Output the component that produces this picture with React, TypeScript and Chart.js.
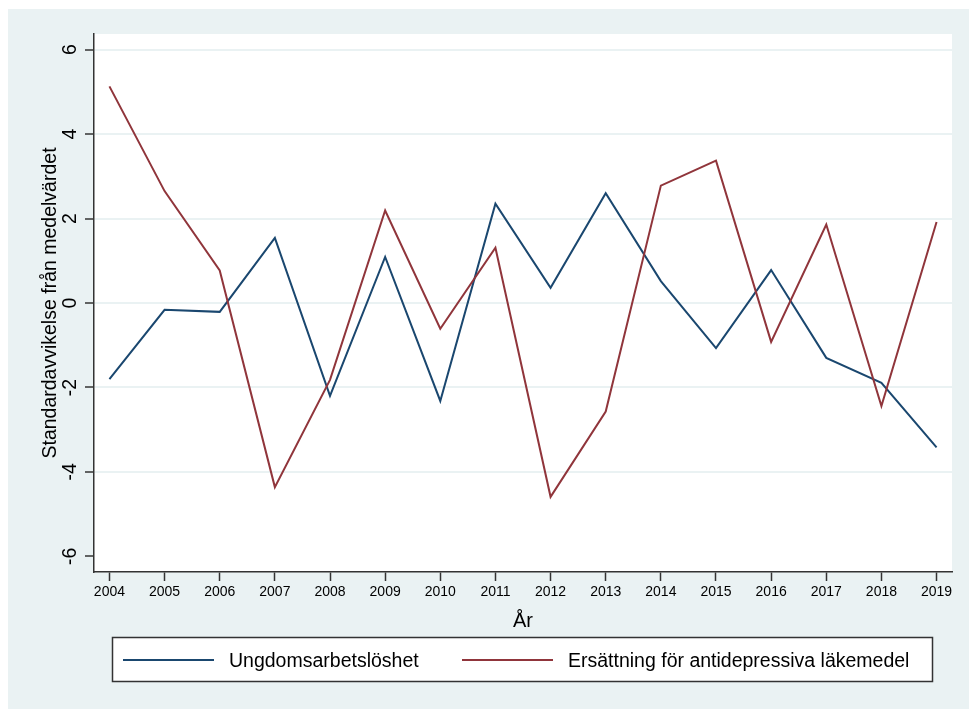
import React, { useEffect, useRef } from "react";
import { Chart, registerables } from "chart.js";

Chart.register(...registerables);

const years = [2004, 2005, 2006, 2007, 2008, 2009, 2010, 2011, 2012, 2013, 2014, 2015, 2016, 2017, 2018, 2019];
const ungdomsarbetsloshet = [-1.8, -0.16, -0.21, 1.54, -2.2, 1.09, -2.32, 2.35, 0.36, 2.6, 0.52, -1.07, 0.78, -1.3, -1.89, -3.42];
const antidepressiva = [5.13, 2.65, 0.77, -4.36, -1.82, 2.19, -0.61, 1.31, -4.59, -2.57, 2.78, 3.37, -0.92, 1.86, -2.44, 1.92];
const yTicks = [-6, -4, -2, 0, 2, 4, 6];
const seriesNames = ["Ungdomsarbetslöshet", "Ersättning för antidepressiva läkemedel"];
const yTitle = "Standardavvikelse från medelvärdet";
const xTitle = "År";

const BG = "#EAF2F3";
const BLUE = "#1A476F";
const RED = "#90353B";
const AXIS = "#333333";
const FONT = "'Liberation Sans', Arial, sans-serif";

export default function App() {
  const ref = useRef<HTMLCanvasElement | null>(null);

  useEffect(() => {
    document.body.style.margin = "0";
    document.body.style.overflow = "hidden";
    const canvas = ref.current!;

    const decor = {
      id: "decor",
      beforeDraw(chart: any) {
        const { ctx, chartArea } = chart;
        ctx.save();
        ctx.fillStyle = "#ffffff";
        ctx.fillRect(0, 0, chart.width, chart.height);
        ctx.fillStyle = BG;
        ctx.fillRect(8, 9, chart.width - 8, chart.height - 9);
        ctx.fillStyle = "#ffffff";
        ctx.fillRect(chartArea.left, chartArea.top, chartArea.right - chartArea.left, chartArea.bottom - chartArea.top);
        ctx.restore();
      },
      afterDraw(chart: any) {
        const { ctx, chartArea } = chart;
        const ys = chart.scales.y;
        ctx.save();
        ctx.fillStyle = "#000000";
        // y tick labels (rotated)
        ctx.font = `19.5px ${FONT}`;
        ctx.textAlign = "center";
        ctx.textBaseline = "alphabetic";
        yTicks.forEach((v) => {
          const py = ys.getPixelForValue(v);
          ctx.save();
          ctx.translate(76, py);
          ctx.rotate(-Math.PI / 2);
          ctx.fillText(String(v), 0, 0);
          ctx.restore();
        });
        // y title
        ctx.save();
        ctx.translate(56, (chartArea.top + chartArea.bottom) / 2);
        ctx.rotate(-Math.PI / 2);
        ctx.font = `19.5px ${FONT}`;
        ctx.fillText(yTitle, 0, 0);
        ctx.restore();
        // x title
        ctx.font = `20px ${FONT}`;
        ctx.fillText(xTitle, (chartArea.left + chartArea.right) / 2, 627);
        // legend
        const lx0 = 112.5, ly0 = 637.5, lx1 = 932.5, ly1 = 681.5;
        ctx.fillStyle = "#ffffff";
        ctx.fillRect(lx0, ly0, lx1 - lx0, ly1 - ly0);
        ctx.strokeStyle = AXIS;
        ctx.lineWidth = 1.5;
        ctx.strokeRect(lx0, ly0, lx1 - lx0, ly1 - ly0);
        const cy = 660;
        const items = [
          { color: BLUE, x0: 123, x1: 214, tx: 229, label: seriesNames[0] },
          { color: RED, x0: 462, x1: 553, tx: 568, label: seriesNames[1] },
        ];
        items.forEach((it) => {
          ctx.strokeStyle = it.color;
          ctx.lineWidth = 2;
          ctx.beginPath();
          ctx.moveTo(it.x0, cy);
          ctx.lineTo(it.x1, cy);
          ctx.stroke();
          ctx.fillStyle = "#000000";
          ctx.font = `19.5px ${FONT}`;
          ctx.textAlign = "left";
          ctx.textBaseline = "alphabetic";
          ctx.fillText(it.label, it.tx, cy + 7);
        });
        ctx.restore();
      },
    };

    const chart = new Chart(canvas, {
      type: "line",
      data: {
        datasets: [
          {
            label: seriesNames[0],
            data: years.map((x, i) => ({ x, y: ungdomsarbetsloshet[i] })),
            borderColor: BLUE,
            borderWidth: 2,
            pointRadius: 0,
            tension: 0,
            fill: false,
            order: 1,
          },
          {
            label: seriesNames[1],
            data: years.map((x, i) => ({ x, y: antidepressiva[i] })),
            borderColor: RED,
            borderWidth: 2,
            pointRadius: 0,
            tension: 0,
            fill: false,
            order: 0,
          },
        ],
      },
      options: {
        responsive: false,
        animation: false,
        events: [],
        layout: { padding: { left: 0, top: 34, right: 17, bottom: 0 } },
        plugins: {
          legend: { display: false },
          tooltip: { enabled: false },
          title: { display: false },
        },
        scales: {
          x: {
            type: "linear",
            min: 2003.72,
            max: 2019.28,
            afterBuildTicks: (scale: any) => {
              scale.ticks = years.map((v) => ({ value: v }));
            },
            afterFit: (scale: any) => {
              scale.height = 137;
            },
            border: { display: true, color: AXIS, width: 1.5 },
            grid: {
              drawOnChartArea: false,
              drawTicks: true,
              tickLength: 9,
              tickColor: AXIS,
              tickWidth: 1.5,
            },
            ticks: {
              autoSkip: false,
              maxRotation: 0,
              minRotation: 0,
              padding: 3,
              color: "#000000",
              font: { family: FONT, size: 14 },
              callback: (v: any) => String(v),
            },
          },
          y: {
            type: "linear",
            min: -6.37,
            max: 6.37,
            afterBuildTicks: (scale: any) => {
              scale.ticks = yTicks.map((v) => ({ value: v }));
            },
            afterFit: (scale: any) => {
              scale.width = 94;
            },
            border: { display: true, color: AXIS, width: 1.5 },
            grid: {
              color: (c: any) => (c.tick && c.tick.value === -6 ? "rgba(0,0,0,0)" : BG),
              lineWidth: 2,
              drawTicks: true,
              tickLength: 9,
              tickColor: AXIS,
              tickWidth: 1.5,
            },
            ticks: { display: false },
          },
        },
      },
      plugins: [decor],
    } as any);

    return () => chart.destroy();
  }, []);

  return <canvas ref={ref} width={969} height={709} style={{ display: "block" }} />;
}
